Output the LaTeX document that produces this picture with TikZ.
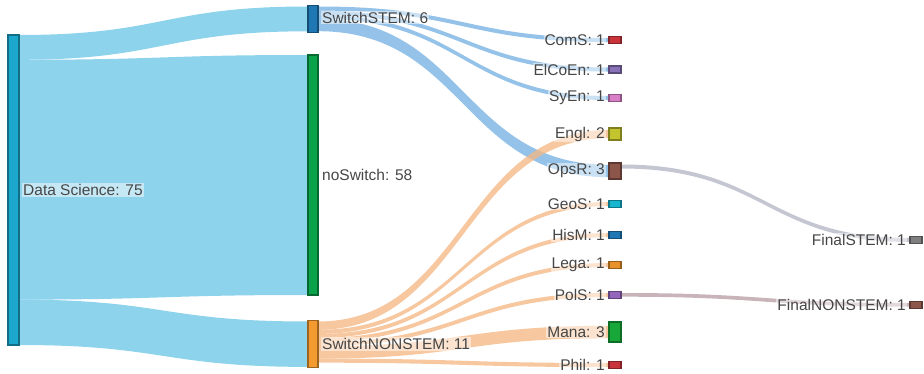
\documentclass[tikz,border=0pt]{standalone}
\usepackage{fontspec}
\setmainfont{Liberation Sans}
\usetikzlibrary{calc}
\pgfdeclarelayer{bg}
\pgfsetlayers{bg,main}
\definecolor{dscol}{HTML}{1BA8CC}
\definecolor{stemcol}{HTML}{1F78B4}
\definecolor{nocol}{HTML}{0BA24C}
\definecolor{noncol}{HTML}{F39A30}
\definecolor{cred}{HTML}{C8343A}
\definecolor{cpurple}{HTML}{8A72B9}
\definecolor{cpink}{HTML}{D97FC8}
\definecolor{colive}{HTML}{C4C42E}
\definecolor{cbrown}{HTML}{8C564B}
\definecolor{ccyan}{HTML}{17B6CF}
\definecolor{cblue}{HTML}{1F77B4}
\definecolor{corange}{HTML}{E8912A}
\definecolor{cpurp2}{HTML}{9467BD}
\definecolor{cgreen}{HTML}{18A83A}
\definecolor{cgray}{HTML}{7F7F7F}
\definecolor{lbl}{HTML}{464646}
\definecolor{dslink}{HTML}{67C4E6}
\definecolor{stemlink}{HTML}{72AEE0}
\definecolor{nonlink}{HTML}{F4B680}
\definecolor{fslink}{HTML}{B0B3C3}
\definecolor{fnlink}{HTML}{B69BA2}
% flow: src, src top off, src bot off, tgt, tgt top off, tgt bot off, colour
\newcommand\flow[7]{%
  \path[fill=#7,fill opacity=.75] let
    \p1=([yshift=-#2pt]#1.north east),
    \p2=([yshift=-#5pt]#4.north west),
    \p3=([yshift=-#6pt]#4.north west),
    \p4=([yshift=-#3pt]#1.north east),
    \n1={(\x1+\x2)/2} in
    (\p1) .. controls (\n1,\y1) and (\n1,\y2) .. (\p2)
    -- (\p3) .. controls (\n1,\y3) and (\n1,\y4) .. (\p4) -- cycle;}
\begin{document}
\begin{tikzpicture}[x=1pt,y=-1pt,
  box/.style={rectangle,draw=#1!65!black,fill=#1,line width=1.1pt,
    minimum width=11pt,inner sep=0pt,outer sep=0pt},
  sbox/.style={box=#1,minimum width=12pt,minimum height=7pt},
  lab/.style={text=lbl,font=\fontsize{15.5}{18}\selectfont,fill=white,
    fill opacity=.5,text opacity=1,inner sep=1pt,label distance=3pt}]
\useasboundingbox (0,0) rectangle (924,374);
% column 1
\node[box=dscol,minimum height=310pt,
  label={[lab]right:{Data Science: 75}}] (ds) at (13.5,190) {};
% column 2
\node[box=stemcol,minimum height=27pt,minimum width=10pt,
  label={[lab,yshift=1.5pt]right:{SwitchSTEM: 6}}] (sstem) at (313,19) {};
\node[box=nocol,minimum height=240pt,minimum width=10pt,
  label={[lab,fill opacity=0]right:{noSwitch: 58}}] (nosw) at (313,175) {};
\node[box=noncol,minimum height=47pt,minimum width=10pt,
  label={[lab]right:{SwitchNONSTEM: 11}}] (snon) at (313,344) {};
% column 3
\node[sbox=cred,label={[lab]left:{ComS: 1}}] (coms) at (615,40) {};
\node[sbox=cpurple,label={[lab]left:{ElCoEn: 1}}] (elcoen) at (615,69.5) {};
\node[sbox=cpink,label={[lab]left:{SyEn: 1}}] (syen) at (615,98) {};
\node[sbox=colive,minimum height=12pt,label={[lab]left:{Engl: 2}}] (engl) at (615,134) {};
\node[sbox=cbrown,minimum height=16pt,label={[lab]left:{OpsR: 3}}] (opsr) at (615,171) {};
\node[sbox=ccyan,label={[lab]left:{GeoS: 1}}] (geos) at (615,204) {};
\node[sbox=cblue,label={[lab]left:{HisM: 1}}] (hism) at (615,235) {};
\node[sbox=corange,label={[lab]left:{Lega: 1}}] (lega) at (615,265) {};
\node[sbox=cpurp2,label={[lab]left:{PolS: 1}}] (pols) at (615,295) {};
\node[sbox=cgreen,minimum height=20pt,label={[lab]left:{Mana: 3}}] (mana) at (615,332) {};
\node[sbox=cred,label={[lab]left:{Phil: 1}}] (phil) at (615,365) {};
% column 4
\node[sbox=cgray,label={[lab]left:{FinalSTEM: 1}}] (fstem) at (916,240) {};
\node[sbox=cbrown,label={[lab]left:{FinalNONSTEM: 1}}] (fnon) at (916,305) {};
\begin{pgfonlayer}{bg}
\flow{ds}{0}{24.8}{sstem}{1}{25.8}{dslink}
\flow{ds}{24.8}{264.6}{nosw}{0}{240}{dslink}
\flow{ds}{264.6}{310}{snon}{1}{46.4}{dslink}
\flow{sstem}{1}{5.1}{coms}{1.5}{5.6}{stemlink}
\flow{sstem}{5.1}{9.2}{elcoen}{1.5}{5.6}{stemlink}
\flow{sstem}{9.2}{13.3}{syen}{1.5}{5.6}{stemlink}
\flow{sstem}{13.3}{25.7}{opsr}{1.8}{14.2}{stemlink}
\flow{snon}{1}{9.3}{engl}{1.9}{10.1}{nonlink}
\flow{snon}{9.3}{13.4}{geos}{1.5}{5.6}{nonlink}
\flow{snon}{13.4}{17.5}{hism}{1.5}{5.6}{nonlink}
\flow{snon}{17.5}{21.6}{lega}{1.5}{5.6}{nonlink}
\flow{snon}{21.6}{25.7}{pols}{1.5}{5.6}{nonlink}
\flow{snon}{25.7}{38.1}{mana}{3.8}{16.2}{nonlink}
\flow{snon}{38.1}{42.2}{phil}{1.5}{5.6}{nonlink}
\flow{opsr}{1.5}{5.5}{fstem}{1.5}{5.5}{fslink}
\flow{pols}{1.5}{5.2}{fnon}{1.5}{5.2}{fnlink}
\end{pgfonlayer}
\end{tikzpicture}
\end{document}
